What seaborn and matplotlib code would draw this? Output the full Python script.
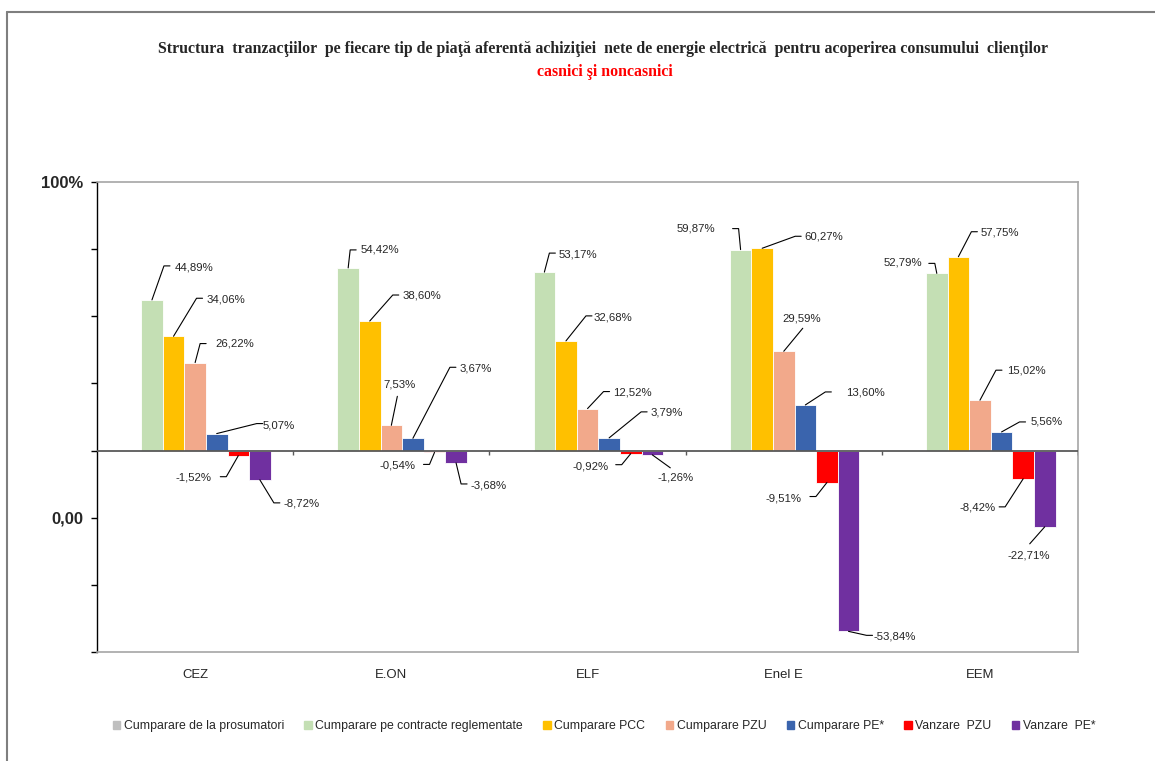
import numpy as np
import pandas as pd
import matplotlib
import matplotlib.pyplot as plt
import seaborn as sns
from matplotlib import font_manager
from matplotlib.lines import Line2D
from matplotlib.transforms import IdentityTransform

# date (procente)
companii = ['CEZ', 'E.ON', 'ELF', 'Enel E', 'EEM']
serii = ['Cumparare de la prosumatori', 'Cumparare pe contracte reglementate',
         'Cumparare PCC', 'Cumparare PZU', 'Cumparare PE*', 'Vanzare  PZU', 'Vanzare  PE*']
prosumatori = [0.0, 0.0, 0.0, 0.0, 0.0]
contracte_reglementate = [44.89, 54.42, 53.17, 59.87, 52.79]
cumparare_pcc = [34.06, 38.60, 32.68, 60.27, 57.75]
cumparare_pzu = [26.22, 7.53, 12.52, 29.59, 15.02]
cumparare_pe = [5.07, 3.67, 3.79, 13.60, 5.56]
vanzare_pzu = [-1.52, -0.54, -0.92, -9.51, -8.42]
vanzare_pe = [-8.72, -3.68, -1.26, -53.84, -22.71]
culori = ['#BFBFBF', '#C4DFB4', '#FFC000', '#F2A98B', '#3A64AD', '#FF0000', '#7030A0']

valori = [prosumatori, contracte_reglementate, cumparare_pcc, cumparare_pzu,
          cumparare_pe, vanzare_pzu, vanzare_pe]

# pozitia etichetelor (pixeli fata de capatul barei): cot dx, dy, text dx, dy, aliniere
etichete_pos = [
    [(12, -34, 23, -32, 'left'), (2, -18, 12, -18, 'left'), (5, -19, 14, -18, 'left'),
     (-2, -21, -25, -21, 'right'), (-2, -10, -15, -11, 'right')],
    [(23, -38, 33, -37, 'left'), (23, -26, 33, -26, 'left'), (20, -25, 28, -23, 'left'),
     (33, -12, 42, -12, 'left'), (13, -25, 22, -24, 'left')],
    [(5, -19, 20, -19, 'left'), (6, -29, 8, -41, 'center'), (16, -17, 26, -16, 'left'),
     (19, -23, 18, -33, 'center'), (16, -30, 27, -30, 'left')],
    [(40, -10, 46, -8, 'left'), (37, -71, 47, -70, 'left'), (32, -26, 41, -25, 'left'),
     (20, -13, 41, -12, 'left'), (18, -10, 29, -10, 'left')],
    [(-12, 21, -27, 22, 'right'), (-5, 12, -19, 13, 'right'), (-9, 11, -22, 13, 'right'),
     (-11, 14, -25, 16, 'right'), (-18, 28, -28, 29, 'right')],
    [(14, 23, 24, 24, 'left'), (5, 21, 14, 23, 'left'), (18, 13, 23, 23, 'center'),
     (18, 4, 25, 5, 'left'), (-15, 17, -16, 29, 'center')],
]

rows = []
for s, vals in zip(serii, valori):
    for c, v in zip(companii, vals):
        rows.append({'companie': c, 'serie': s, 'valoare': v / 100})
df = pd.DataFrame(rows)

sns.set_style('white')
nume = {f.name for f in font_manager.fontManager.ttflist}
narrow = 'Liberation Sans Narrow' if 'Liberation Sans Narrow' in nume else 'Liberation Sans'
plt.rcParams['font.family'] = [narrow, 'DejaVu Sans']
k = 1.0 if narrow == 'Liberation Sans Narrow' else 0.82
mic = 10 * k

fig = plt.figure(figsize=(11.55, 7.61), dpi=100)
ax = fig.add_axes([0.084, 0.1432, 0.8494, 0.6176])

sns.barplot(data=df, x='companie', y='valoare', hue='serie', palette=culori,
            width=0.77, saturation=1, edgecolor='white', linewidth=0.6, ax=ax)
ax.get_legend().remove()

ax.set_xlim(-0.5, 4.5)
ax.set_ylim(-0.6, 0.8)
ax.set_xlabel('')
ax.set_ylabel('')

yt = np.arange(-0.6, 0.81, 0.2)
ax.set_yticks(yt)
ax.set_yticklabels(['100%' if abs(t - 0.8) < 1e-6 else ('0,00' if abs(t + 0.2) < 1e-6 else '')
                    for t in yt], fontsize=12, fontweight='bold', family='Liberation Sans')
ax.tick_params(axis='y', length=4, width=1, color='black', pad=6, left=True)
ax.tick_params(axis='x', length=0, pad=12, labelsize=11.5 * k)

for side in ['top', 'right', 'bottom']:
    ax.spines[side].set_color('#A6A6A6')
    ax.spines[side].set_linewidth(1.2)
ax.spines['left'].set_color('black')
ax.spines['left'].set_linewidth(1)

ax.axhline(0, color='#595959', lw=1.3, zorder=3)
ax.vlines(np.arange(0.5, 4.6, 1), -0.012, 0, color='#595959', lw=1, zorder=3)

fig.canvas.draw()
for i, cont in enumerate(ax.containers[1:]):
    for j, p in enumerate(cont.patches):
        x = p.get_x() + p.get_width() / 2
        y = p.get_y() + p.get_height()
        v = valori[i + 1][j]
        px, py = ax.transData.transform((x, y))
        edx, edy, tdx, tdy, ha = etichete_pos[i][j]
        xs = [px, px + edx]
        ys = [py, py - edy]
        if ha == 'left':
            xs.append(px + edx + 6); ys.append(py - edy)
        elif ha == 'right':
            xs.append(px + edx - 6); ys.append(py - edy)
        fig.add_artist(Line2D(xs, ys, transform=IdentityTransform(), color='black', lw=0.8))
        ax.annotate(f'{v:.2f}%'.replace('.', ','), xy=(x, y), xytext=(tdx, -tdy),
                    textcoords='offset pixels', ha=ha, va='center', fontsize=mic)

# legenda
handles = [plt.Rectangle((0, 0), 1, 1, color=c) for c in culori]
fig.legend(handles, serii, loc='center', bbox_to_anchor=(0.523, 0.046), ncol=7,
           frameon=False, handlelength=0.6, handleheight=0.6, handletextpad=0.3,
           columnspacing=1.65, fontsize=10.8 * k)

# titlu
fig.text(0.522, 0.935, 'Structura  tranzacţiilor  pe fiecare tip de piaţă aferentă achiziţiei  '
         'nete de energie electrică  pentru acoperirea consumului  clienţilor',
         ha='center', va='center', family='Liberation Serif', fontweight='bold', fontsize=11.4)
fig.text(0.524, 0.905, 'casnici şi noncasnici', ha='center', va='center',
         family='Liberation Serif', fontweight='bold', fontsize=11.4, color='red')

# chenar exterior
fig.add_artist(Line2D([0.006, 0.006], [0, 0.984], transform=fig.transFigure, color='#7F7F7F', lw=1.5))
fig.add_artist(Line2D([0.006, 1], [0.984, 0.984], transform=fig.transFigure, color='#7F7F7F', lw=1.5))

fig.savefig('out.png', dpi=100, facecolor='white')
